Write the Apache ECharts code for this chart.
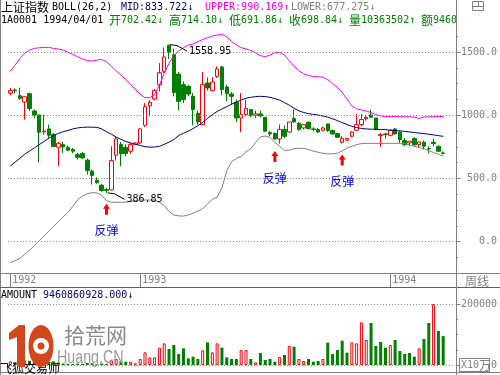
<!DOCTYPE html>
<html><head><meta charset="utf-8">
<script src="https://cdn.jsdelivr.net/npm/echarts@6/dist/echarts.min.js"></script>
<style>html,body{margin:0;padding:0;background:#fff}#c{width:500px;height:375px}</style>
</head><body><div id="c"></div>
<script>
// ---------- data (weekly, Shanghai Composite) ----------
const dates = [
'1992/06/26','1992/07/03','1992/07/10','1992/07/17','1992/07/24','1992/07/31','1992/08/07','1992/08/14','1992/08/21','1992/08/28',
'1992/09/04','1992/09/11','1992/09/18','1992/09/25','1992/10/02','1992/10/09','1992/10/16','1992/10/23','1992/10/30','1992/11/06',
'1992/11/13','1992/11/20','1992/11/27','1992/12/04','1992/12/11','1992/12/18','1992/12/25',
'1993/01/08','1993/01/15','1993/01/22','1993/01/29','1993/02/05','1993/02/12','1993/02/19','1993/02/26','1993/03/05','1993/03/12',
'1993/03/19','1993/03/26','1993/04/02','1993/04/09','1993/04/16','1993/04/23','1993/04/30','1993/05/07','1993/05/14','1993/05/21',
'1993/05/28','1993/06/04','1993/06/11','1993/06/18','1993/06/25','1993/07/02','1993/07/09','1993/07/16','1993/07/23','1993/07/30',
'1993/08/06','1993/08/13','1993/08/20','1993/08/27','1993/09/03','1993/09/10','1993/09/17','1993/09/24','1993/10/01','1993/10/08',
'1993/10/15','1993/10/22','1993/10/29','1993/11/05','1993/11/12','1993/11/19','1993/11/26','1993/12/03','1993/12/10','1993/12/17',
'1993/12/24','1993/12/31',
'1994/01/07','1994/01/14','1994/01/21','1994/01/28','1994/02/04','1994/02/18','1994/02/25','1994/03/04','1994/03/11','1994/03/18',
'1994/03/25','1994/04/01'];
const opens = [1174,1200,1155,1105,1171,1034,1003,868,892,847, 747,768,747,729,689,697,645,558,487,447,
  412,410,684,768,747,716,768,781,921,1074, 1129,1242,1347,1553,1479,1326,1242,1229,1150,1016,
  926,1255,1197,1308,1382,1224,1168,1103,979,1005, 1045,1000,1011,984,863,858,813,887,868,974,
  937,900,945,892,887,882,932,879,855,787, 803,834,882,926,974,1003,979,840,853,842,
  892,866,800,782,816,768,787,737,787,755,702.42];
const closes = [1195,1195,1134,1147,1053,1003,866,876,842,753, 779,750,724,716,668,663,563,523,466,405,
  405,642,813,695,697,768,781,892,1068,1103, 1197,1337,1461,1500,1180,1110,1124,1168,1045,947,
  1242,1216,1263,1366,1203,1171,1150,979,1005,1053, 1000,1011,995,874,853,813,887,834,947,947,
  887,926,895,887,868,900,879,853,826,816, 816,868,926,966,984,984,887,847,847,879,
  853,808,768,795,768,789,755,734,776,716,698.84];
const lows = [1158,1173,1121,966,1034,979,629,847,821,747, 597,702,716,700,650,655,531,452,460,395,
  386.85,405,642,597,676,695,766,774,908,992, 1118,1189,1334,1445,1150,1037,1097,1150,921,926,
  921,1195,1189,1295,1158,1110,1084,947,866,992, 984,979,984,868,834,805,776,821,860,942,
  879,887,887,874,860,874,868,847,821,776, 795,826,874,913,958,979,882,750,816,834,
  847,782,755,755,755,742,729,697,755,710,691.86];
const highs = [1216,1213,1218,1150,1179,1045,1005,1005,926,860, 789,789,760,742,702,710,658,571,510,458,
  425,755,834,789,768,781,784,897,1097,1121, 1208,1413,1537,1558.95,1526,1342,1268,1242,1176,1037,
  1342,1300,1303,1387,1392,1242,1184,1124,1176,1124, 1045,1037,1037,984,874,863,926,921,947,1045,
  947,931,953,905,900,910,932,887,861,834, 821,874,1011,1011,1000,1045,979,860,861,887,
  900,874,821,795,826,795,800,755,813,760,714.10];
const upper = [1350,1397,1450,1490,1516,1529,1534,1537,1537,1529, 1524,1516,1498,1482,1463,1445,1434,1429,1437,1442,
  1423,1389,1352,1318,1284,1245,1205,1166,1139,1139, 1166,1239,1332,1411,1471,1508,1534,1555,1563,1582,
  1600,1613,1627,1634,1642,1620,1585,1556,1535,1525, 1512,1494,1472,1463,1476,1495,1498,1478,1430,1390,
  1352,1328,1315,1307,1305,1302,1282,1250,1222,1180, 1128,1075,1050,1043,1034,1022,1005,995,990,990,
  990,989,988,988,986,975,986,988,989,990,990.169];
const mid = [599,630,660,692,718,742,768,793,818,840, 857,870,880,892,900,905,906,906,905,892,
  870,850,828,810,793,782,772,762,752,748, 749,755,770,788,808,840,858,875,895,918,
  945,975,1005,1030,1050,1068,1088,1105,1120,1135, 1142,1148,1150,1148,1142,1132,1120,1100,1080,1055,
  1035,1022,1012,1007,1002,995,985,972,958,942, 928,913,903,896,892,890,889,888,886,883,
  880,877,873,868,864,859,855,850,845,839,833.722];
const lower = [-165,-150,-131,-100,-68,-30,8,45,84,122, 160,197,233,280,332,362,380,388,386,368,
  325,313,312,312,312,318,325,330,330,330, 330,312,285,240,211,205,203,212,225,243,
  262,298,335,352,425,560,632,660,675,712, 735,785,830,836,825,785,755,720,725,737,
  739,737,730,716,708,700,695,695,700,718, 742,755,768,776,778,778,778,778,778,778,
  778,778,776,766,755,745,735,720,706,692,677.275];
// AMOUNT in units of 100,000 yuan (X10万)
const amount = [12000,9000,11000,15000,14000,10000,20000,12000,10000,12000, 9000,5000,4000,3500,4500,4000,6500,6000,3000,5000,
  3500,16000,19700,12000,10900,10900,5500,19700,41500,25000, 25000,56800,71000,52500,65600,36000,54600,21900,27300,19700,
  48000,74000,41500,71000,56800,25000,19700,19700,49000,49000, 19700,8700,39300,16400,19700,10900,26200,32800,62300,60100,
  19700,13100,19700,10900,13100,19700,73200,36100,49200,79800, 40400,74300,71000,139900,82000,137700,62300,75400,56800,65600,
  82000,45900,36100,39300,27300,54600,85300,137700,200000,111500,94608];
// 1 = red hollow bar, 0 = green bar
const amountUp = [1,0,0,1,0,0,0,1,0,0, 1,0,0,0,0,0,0,0,0,0, 0,1,1,0,0,1,1,1,1,1,
  1,1,1,0,0,0,0,0,0,0, 1,0,1,1,0,0,0,0,1,1, 0,1,0,0,0,0,1,0,1,0,
  1,1,0,0,0,1,0,0,0,0, 0,1,1,1,1,0,0,0,0,1, 0,0,0,0,0,1,0,0,1,0,0];
const priceTicks = [0,500,1000,1500];
const priceMinor = [-125,125,250,375,625,750,875,1125,1250,1375,1625];
const amountTicks = [0,200000];
const amountMinor = [50000,100000,150000];
const reboundIdx = [20,55,69];

// ---------- chart ----------
const GRAY = '#808080', RED = '#ff0000', GREEN = '#008000';
const cats = dates.concat(['','']);
const candles = opens.map((o,i)=>[o, closes[i], lows[i], highs[i]]);
function isYearStart(i){ if(i>=dates.length) return false; return i===0 || dates[i].slice(0,4)!==dates[i-1].slice(0,4); }
const monoLbl = {color:GRAY, fontFamily:'DejaVu Sans Mono', fontSize:10};
const dotted = {color:GRAY, type:[1,2], width:1};

const chart = echarts.init(document.getElementById('c'), null, {renderer:'canvas'});
const option = {
  animation:false,
  backgroundColor:'#ffffff',
  grid:[
    {left:7.9, top:20.45, width:447.33, height:252.9, containLabel:false, outerBoundsMode:'none'},
    {left:7.9, top:288.75, width:447.33, height:76.25, containLabel:false, outerBoundsMode:'none'}
  ],
  xAxis:[
    {type:'category', gridIndex:0, data:cats, boundaryGap:true, position:'bottom', axisLine:{show:false, onZero:false},
     axisTick:{show:true, alignWithLabel:true, length:14, interval:isYearStart, lineStyle:{color:GRAY}},
     axisLabel:Object.assign({show:true, interval:isYearStart, formatter:v=>v.slice(0,4), align:'left', margin:2, padding:[0,0,0,2]}, monoLbl),
     splitLine:{show:false}},
    {type:'category', gridIndex:1, data:cats, boundaryGap:true, show:false, axisLine:{onZero:false}}
  ],
  yAxis:[
    {type:'value', gridIndex:0, min:-250, max:1750, position:'right', offset:1.3, axisLine:{show:false}, splitLine:{show:false},
     axisTick:{show:true, customValues:priceTicks, length:4, lineStyle:{color:GRAY}},
     axisLabel:Object.assign({customValues:priceTicks, formatter:v=>v.toFixed(1), align:'right', margin:40.5}, monoLbl)},
    {type:'value', gridIndex:0, min:-250, max:1750, position:'right', offset:1.3, axisLine:{show:false}, splitLine:{show:false},
     axisTick:{show:true, customValues:priceMinor, length:1.5, lineStyle:{color:GRAY}}, axisLabel:{show:false}},
    {type:'value', gridIndex:1, min:0, max:250000, position:'right', offset:1.3, axisLine:{show:false}, splitLine:{show:false},
     axisTick:{show:true, customValues:amountTicks, length:4, lineStyle:{color:GRAY}},
     axisLabel:Object.assign({customValues:amountTicks, formatter:v=>String(v), align:'right', margin:40.5}, monoLbl)},
    {type:'value', gridIndex:1, min:0, max:250000, position:'right', offset:1.3, axisLine:{show:false}, splitLine:{show:false},
     axisTick:{show:true, customValues:amountMinor, length:1.5, lineStyle:{color:GRAY}}, axisLabel:{show:false}}
  ],
  series:[
    {type:'candlestick', xAxisIndex:0, yAxisIndex:0, data:candles, barWidth:4,
     itemStyle:{color:'#ffffff', color0:GREEN, borderColor:RED, borderColor0:GREEN, borderWidth:1},
     markLine:{silent:true, symbol:'none', animation:false, label:{show:false}, lineStyle:dotted,
       data:priceTicks.map(v=>({yAxis:v}))}},
    {type:'line', xAxisIndex:0, yAxisIndex:0, data:upper, symbol:'none', silent:true, lineStyle:{color:'#ff00ff', width:1}, itemStyle:{color:'#ff00ff'}},
    {type:'line', xAxisIndex:0, yAxisIndex:0, data:mid, symbol:'none', silent:true, lineStyle:{color:'#000080', width:1}, itemStyle:{color:'#000080'}},
    {type:'line', xAxisIndex:0, yAxisIndex:0, data:lower, symbol:'none', silent:true, lineStyle:{color:GRAY, width:1}, itemStyle:{color:GRAY}},
    {type:'bar', xAxisIndex:1, yAxisIndex:2, barWidth:3, silent:true,
     data:amount.map((v,i)=>({value:v, itemStyle: amountUp[i] ? {color:'#ffffff', borderColor:RED, borderWidth:1} : {color:GREEN, borderColor:GREEN, borderWidth:0}})),
     markLine:{silent:true, symbol:'none', animation:false, label:{show:false}, lineStyle:dotted,
       data:amountTicks.map(v=>({yAxis:v}))}}
  ]
};
chart.setOption(option);

// ---------- texts & decorations ----------
const g = [];
const CJK = /[\u3000-\u303f\u4e00-\u9fff\uff00-\uffef]/;
function txt(x, y, s, color, font, align, z){
  return {type:'text', x:x, y:y, z:z||100, silent:true,
    style:{text:s, fill:color, font:font, textAlign:align||'left', textVerticalAlign:'middle', align:align||'left', verticalAlign:'middle'}};
}
function runText(x, y, str, color, z){
  let cx = x, buf = '', bx = x;
  const flush = ()=>{ if(buf){ g.push(txt(bx, y, buf, color, '10px "DejaVu Sans Mono"', 'left', z)); buf=''; } };
  for (const ch of str){
    if (CJK.test(ch)) { flush(); g.push(txt(cx, y, ch, color, '12px "Noto Sans CJK SC"', 'left', z)); cx += 12; }
    else { if(!buf) bx = cx; buf += ch; cx += 6; }
  }
  flush();
}
function hline(y, x1, x2, color, z){ g.push({type:'line', z:z||90, silent:true, shape:{x1:x1, y1:y, x2:x2, y2:y}, style:{stroke:color||GRAY, lineWidth:1}}); }
function vline(x, y1, y2, color, z){ g.push({type:'line', z:z||90, silent:true, shape:{x1:x, y1:y1, x2:x, y2:y2}, style:{stroke:color||GRAY, lineWidth:1}}); }

// header rows
runText(1, 7.5, '上证指数', '#000000');
runText(52, 7.5, 'BOLL(26,2)', '#000000');
runText(121, 7.5, 'MID:833.722↓', '#000080');
runText(205, 7.5, 'UPPER:990.169↑', '#ff00ff');
runText(291, 7.5, 'LOWER:677.275↓', GRAY);
runText(1, 20.5, '1A0001 1994/04/01', '#000000');
runText(109, 20.5, '开702.42↓', GREEN);
runText(169, 20.5, '高714.10↓', GREEN);
runText(229, 20.5, '低691.86↓', GREEN);
runText(289, 20.5, '收698.84↓', GREEN);
runText(349, 20.5, '量10363502↑', GREEN);
runText(421, 20.5, '额9460860928', GREEN);
g.push({type:'rect', z:110, silent:true, shape:{x:457, y:0, width:43, height:27}, style:{fill:'#ffffff'}});
// window icon top right
g.push({type:'rect', z:112, silent:true, shape:{x:472.5, y:1.5, width:11, height:9}, style:{fill:null, stroke:GRAY, lineWidth:1}});
hline(6.5, 472.5, 483.5, GRAY, 112);
vline(478.5, 1.5, 6.5, GRAY, 112);

// frame
vline(0.5, 0, 375);
vline(456.5, 0, 375, GRAY, 115);
hline(273.5, 0, 500);
hline(287.5, 0, 500, '#606060');
hline(372.5, 0, 500);
runText(465, 281.5, '周线', GRAY);

// amount panel header & unit box
runText(1, 295, 'AMOUNT', '#000000');
runText(43, 295, '9460860928.000↓', '#000080');
g.push({type:'rect', z:100, silent:true, shape:{x:459.5, y:358.5, width:30, height:13}, style:{fill:'#ffffff', stroke:GRAY, lineWidth:1}});
runText(461, 365, 'X10万', GRAY, 101);

// annotations through the axes
const P = (i, v)=>chart.convertToPixel({xAxisIndex:0, yAxisIndex:0}, [i, v]);
function leader(i, v){
  const p = P(i, v);
  g.push({type:'polyline', z:100, silent:true, shape:{points:[[p[0]+1,p[1]],[p[0]+8,p[1]+1],[p[0]+18,p[1]+6.5]]}, style:{stroke:'#000000', fill:null, lineWidth:1}});
  g.push(txt(p[0]+20, p[1]+6.5, v.toFixed(2), '#000000', '10px "DejaVu Sans Mono"'));
}
const hiIdx = highs.indexOf(Math.max(...highs));
const loIdx = lows.indexOf(Math.min(...lows));
leader(hiIdx, highs[hiIdx]);
leader(loIdx, lows[loIdx]);
reboundIdx.forEach(i=>{
  const p = P(i, lows[i]);
  const cx = p[0], t = p[1] + 11;
  g.push({type:'polygon', z:100, silent:true, shape:{points:[[cx,t],[cx+3.5,t+5],[cx+1.5,t+5],[cx+1.5,t+11],[cx-1.5,t+11],[cx-1.5,t+5],[cx-3.5,t+5]]}, style:{fill:RED}});
  g.push(txt(cx, t+27, '反弹', '#0000ff', '12px "Noto Sans CJK SC"', 'center'));
});

// watermark
g.push(txt(0, 368, '飞狐交易师', '#000000', '12px "Noto Sans CJK SC"', 'left', 100));
g.push({type:'polygon', z:102, silent:true, shape:{points:[[9,333],[19,325],[25,325],[25,367],[17,367],[17,337],[9,340]]}, style:{fill:'#d4461c'}});
g.push({type:'ellipse', z:102, silent:true, shape:{cx:41, cy:346, rx:12.5, ry:21}, style:{fill:'#d4461c'}});
g.push({type:'circle', z:103, silent:true, shape:{cx:41, cy:346, r:8}, style:{fill:'#ffffff'}});
g.push({type:'circle', z:104, silent:true, shape:{cx:41, cy:346, r:3.5}, style:{fill:'#d4461c'}});
g.push(txt(64, 335, '拾荒网', '#8a8a8a', '21px "Noto Sans CJK SC"', 'left', 102));
const hw = txt(57, 358, 'Huang.CN', '#9a9a9a', '19px "Liberation Sans"', 'left', 102);
hw.scaleX = 0.75;
g.push(hw);

chart.setOption({graphic:g});
</script>
</body></html>
